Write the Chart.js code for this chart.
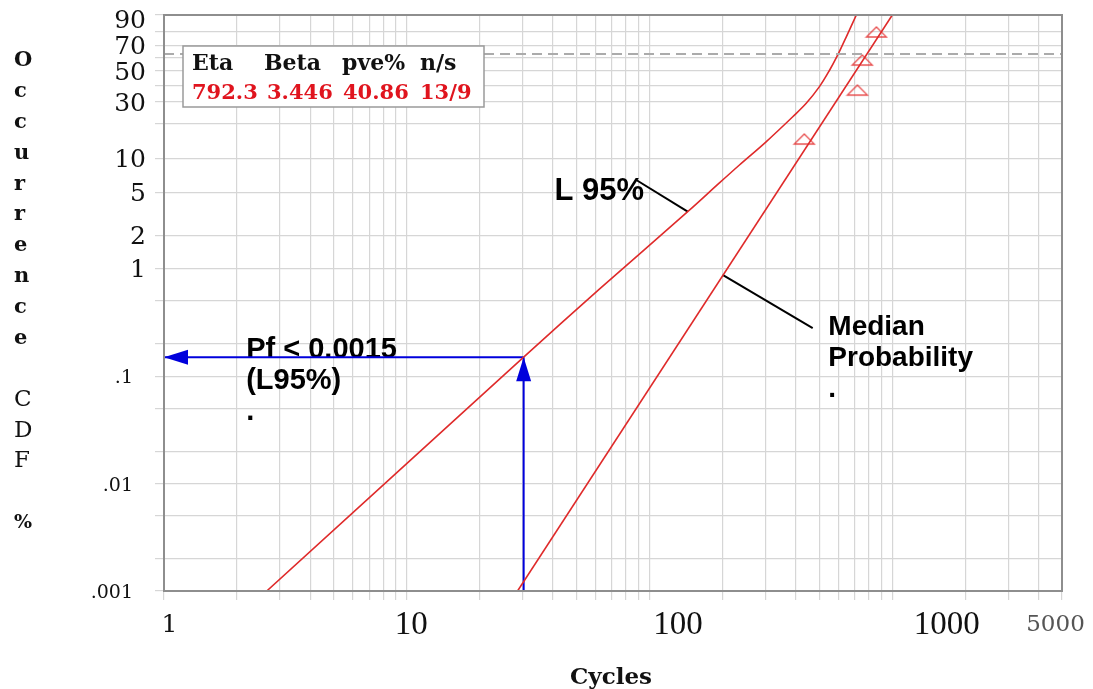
<!DOCTYPE html>
<html lang="en">
<head>
<meta charset="UTF-8">
<title>Weibull plot - cycles to failure</title>
<script src="https://cdn.jsdelivr.net/npm/chart.js"></script>
<style>
  html, body { margin: 0; padding: 0; background: #fff; }
  canvas { display: block; }
</style>
</head>
<body>
<canvas id="weibull" width="1093" height="689"></canvas>
<script>
// ---- data ----
const xGrid = [1, 2, 3, 4, 5, 6, 7, 8, 9, 10, 20, 30, 40, 50, 60, 70, 80, 90,
  100, 200, 300, 400, 500, 600, 700, 800, 900, 1000, 2000, 3000, 4000, 5000];
const yGrid = [0.001, 0.002, 0.005, 0.01, 0.02, 0.05, 0.1, 0.2, 0.5, 1, 2, 5,
  10, 20, 30, 40, 50, 60, 70, 80, 90];
const xTickValues = [1, 10, 100, 1000, 5000];
const xTickLabels = ['1', '10', '100', '1000', '5000'];
const yTickValues = [0.001, 0.01, 0.1, 1, 2, 5, 10, 30, 50, 70, 90];
const yTickLabels = ['.001', '.01', '.1', '1', '2', '5', '10', '30', '50', '70', '90'];

const failCycles = [434, 718, 752, 860];
const failCdf = [14.9, 36.9, 58.4, 79.8];

const medianCycles = [28.6, 1000];
const medianCdf = [0.001, 90];

const l95Cycles = [2.65, 30.3, 62.3, 143.6, 194, 234.6, 302, 389, 442, 501, 550, 596, 645, 711];
const l95Cdf = [0.001, 0.15, 0.647, 3.34, 6.1, 8.83, 14.1, 22.9, 29.3, 39.1, 50.2, 62.4, 76.0, 90];

const etaCdf = 63.2;
const pfCycles = 30.3;
const pfCdf = 0.15;

const l95PointerCycles = [88.2, 143.6];
const l95PointerCdf = [6.48, 3.34];
const medianPointerCycles = [200, 470];
const medianPointerCdf = [0.874, 0.279];

const fitHeads = ['Eta', 'Beta', 'pve%', 'n/s'];
const fitValues = ['792.3', '3.446', '40.86', '13/9'];

// ---- styles ----
const RED = '#df2a2a';
const BLUE = '#0000dc';
const GRID = '#d6d6d6';
const SANS = '"Liberation Sans", Arial, sans-serif';
const SERIF = '"DejaVu Serif", serif';
const TIMES = '"Liberation Serif", serif';

// text notes anchored in data space (left edge, first baseline)
const notes = [
  { lines: ['L 95%'], x: 40.6, y: 4.27, size: 31, lh: 31 },
  { lines: ['Pf < 0.0015', '(L95%)', '.'], x: 2.18, y: 0.148, size: 29, lh: 31 },
  { lines: ['Median', 'Probability', '.'], x: 545, y: 0.241, size: 28, lh: 31 }
];
const xLabelDx = [5.5, 4.5, 28.5, 54.5, -6.5];

const pts = (xs, ys) => xs.map((x, i) => ({ x: x, y: ys[i] }));

// Weibull probability axis: linear in ln(-ln(1-F))
const wb = p => Math.log(-Math.log(1 - p / 100));
class WeibullScale extends Chart.LinearScale {
  static id = 'weibull';
  static defaults = {};
  determineDataLimits() {
    this.min = this.options.min;
    this.max = this.options.max;
  }
  buildTicks() {
    return yGrid.map(v => ({ value: v }));
  }
  configure() {
    super.configure();
    this._wLo = wb(this.min);
    this._wHi = wb(this.max);
  }
  getPixelForValue(value) {
    if (value === null || value === undefined || isNaN(value)) return NaN;
    return this.getPixelForDecimal((wb(value) - this._wLo) / (this._wHi - this._wLo));
  }
  getValueForPixel(pixel) {
    const w = this._wLo + this.getDecimalForPixel(pixel) * (this._wHi - this._wLo);
    return 100 * (1 - Math.exp(-Math.exp(w)));
  }
}
Chart.register(WeibullScale);

// open, flattened triangle for the failure points
const tri = document.createElement('canvas');
tri.width = 24; tri.height = 14;
(function () {
  const c = tri.getContext('2d');
  c.strokeStyle = 'rgba(228,50,50,0.85)';
  c.lineWidth = 1.3;
  c.beginPath();
  c.moveTo(2, 12); c.lineTo(12, 2); c.lineTo(22, 12); c.closePath();
  c.stroke();
})();

function arrowHead(ctx, from, to, len, half) {
  const a = Math.atan2(to.y - from.y, to.x - from.x);
  ctx.save();
  ctx.translate(to.x, to.y);
  ctx.rotate(a);
  ctx.beginPath();
  ctx.moveTo(0, 0);
  ctx.lineTo(-len, -half);
  ctx.lineTo(-len, half);
  ctx.closePath();
  ctx.fillStyle = BLUE;
  ctx.fill();
  ctx.restore();
}

const decorations = {
  id: 'decorations',
  beforeDatasetsDraw(chart) {
    const { ctx, scales: { x, y } } = chart;
    ctx.save();
    ctx.fillStyle = '#000';
    ctx.textAlign = 'left';
    ctx.textBaseline = 'alphabetic';
    notes.forEach(n => {
      ctx.font = 'bold ' + n.size + 'px ' + SANS;
      const px = x.getPixelForValue(n.x);
      const py = y.getPixelForValue(n.y);
      n.lines.forEach((t, i) => ctx.fillText(t, px, py + i * n.lh));
    });
    ctx.restore();
  },
  afterDatasetsDraw(chart) {
    const { ctx, chartArea: area, scales: { x, y } } = chart;
    ctx.save();

    // arrow heads
    chart.data.datasets.forEach((ds, i) => {
      if (!ds.arrowHead) return;
      const d = chart.getDatasetMeta(i).data;
      arrowHead(ctx, d[d.length - 2], d[d.length - 1], 24, 7.5);
    });

    // frame
    ctx.strokeStyle = '#8e8e8e';
    ctx.lineWidth = 2;
    ctx.strokeRect(area.left, area.top, area.right - area.left, area.bottom - area.top);

    // fit parameter box
    const bx = area.left + 19, by = area.top + 31;
    ctx.fillStyle = '#fff';
    ctx.fillRect(bx, by, 301, 61);
    ctx.strokeStyle = '#9a9a9a';
    ctx.lineWidth = 1.5;
    ctx.strokeRect(bx, by, 301, 61);
    ctx.textAlign = 'left';
    ctx.font = 'bold 22px ' + SERIF;
    ctx.fillStyle = '#111';
    [9, 81, 159, 237].forEach((c, i) => ctx.fillText(fitHeads[i], bx + c, by + 24));
    ctx.font = 'bold 21px ' + SERIF;
    ctx.fillStyle = '#e0141e';
    [9, 84, 160, 237].forEach((c, i) => ctx.fillText(fitValues[i], bx + c, by + 53));

    // y tick labels
    ctx.fillStyle = '#111';
    ctx.textAlign = 'right';
    ctx.textBaseline = 'middle';
    yTickValues.forEach((v, i) => {
      const small = v < 1;
      ctx.font = (small ? 19 : 25) + 'px ' + SERIF;
      const py = Math.max(y.getPixelForValue(v) + 2, area.top + 6);
      ctx.fillText(yTickLabels[i], area.left - (small ? 31 : 18), py);
    });

    // x tick labels
    ctx.textAlign = 'center';
    xTickValues.forEach((v, i) => {
      const last = i === xTickValues.length - 1;
      const mixed = i > 0 && !last;
      ctx.font = mixed ? '33px ' + TIMES : (last ? '23px ' : '25px ') + SERIF;
      ctx.fillStyle = last ? '#555' : '#111';
      ctx.fillText(xTickLabels[i], x.getPixelForValue(v) + xLabelDx[i], area.bottom + 34);
    });

    // axis titles
    ctx.fillStyle = '#111';
    ctx.textAlign = 'center';
    ctx.textBaseline = 'alphabetic';
    ctx.font = 'bold 23px ' + SERIF;
    ctx.fillText('Cycles', (area.left + area.right) / 2 - 2, area.bottom + 93);

    ctx.textAlign = 'left';
    ctx.textBaseline = 'middle';
    const title = 'Occurrence CDF %';
    title.split('').forEach((ch, i) => {
      if (i < 10) ctx.font = 'bold 21px ' + SERIF;
      else if (i < 15) ctx.font = '23px ' + SERIF;
      else ctx.font = 'bold 19px ' + SERIF;
      ctx.fillText(ch, 14, 61 + i * 30.8);
    });

    ctx.restore();
  }
};

new Chart(document.getElementById('weibull'), {
  type: 'scatter',
  data: {
    datasets: [
      {
        label: 'Eta',
        data: pts([1, 5000], [etaCdf, etaCdf]),
        showLine: true,
        borderColor: '#ababab',
        borderWidth: 2,
        borderDash: [10, 6],
        pointRadius: 0
      },
      {
        label: 'Median',
        data: pts(medianCycles, medianCdf),
        showLine: true,
        borderColor: RED,
        borderWidth: 1.6,
        pointRadius: 0
      },
      {
        label: 'L 95%',
        data: pts(l95Cycles, l95Cdf),
        showLine: true,
        tension: 0.35,
        borderColor: RED,
        borderWidth: 1.6,
        pointRadius: 0
      },
      {
        label: 'Failures',
        data: pts(failCycles, failCdf),
        pointStyle: tri,
        pointRadius: 6
      },
      {
        label: 'Pf cycles',
        data: pts([pfCycles, pfCycles], [0.001, pfCdf]),
        showLine: true,
        arrowHead: true,
        borderColor: BLUE,
        borderWidth: 2,
        pointRadius: 0
      },
      {
        label: 'Pf',
        data: pts([pfCycles, 1], [pfCdf, pfCdf]),
        showLine: true,
        arrowHead: true,
        borderColor: BLUE,
        borderWidth: 2,
        pointRadius: 0
      },
      {
        label: 'L95 pointer',
        data: pts(l95PointerCycles, l95PointerCdf),
        showLine: true,
        borderColor: '#000',
        borderWidth: 2,
        pointRadius: 0
      },
      {
        label: 'Median pointer',
        data: pts(medianPointerCycles, medianPointerCdf),
        showLine: true,
        borderColor: '#000',
        borderWidth: 2,
        pointRadius: 0
      }
    ]
  },
  options: {
    responsive: false,
    animation: false,
    layout: { padding: { left: 155, right: 31, top: 15, bottom: 89 } },
    plugins: {
      legend: { display: false },
      tooltip: { enabled: false }
    },
    scales: {
      x: {
        type: 'logarithmic',
        min: 1,
        max: 5000,
        afterBuildTicks: s => { s.ticks = xGrid.map(v => ({ value: v })); },
        afterFit: s => { s.height = 9; },
        ticks: { display: false },
        border: { display: false },
        grid: { color: GRID, lineWidth: 1.2, tickLength: 9 }
      },
      y: {
        type: 'weibull',
        min: 0.001,
        max: 90,
        afterFit: s => { s.width = 9; },
        ticks: { display: false },
        border: { display: false },
        grid: { color: GRID, lineWidth: 1.2, tickLength: 9 }
      }
    }
  },
  plugins: [decorations]
});
</script>
</body>
</html>
